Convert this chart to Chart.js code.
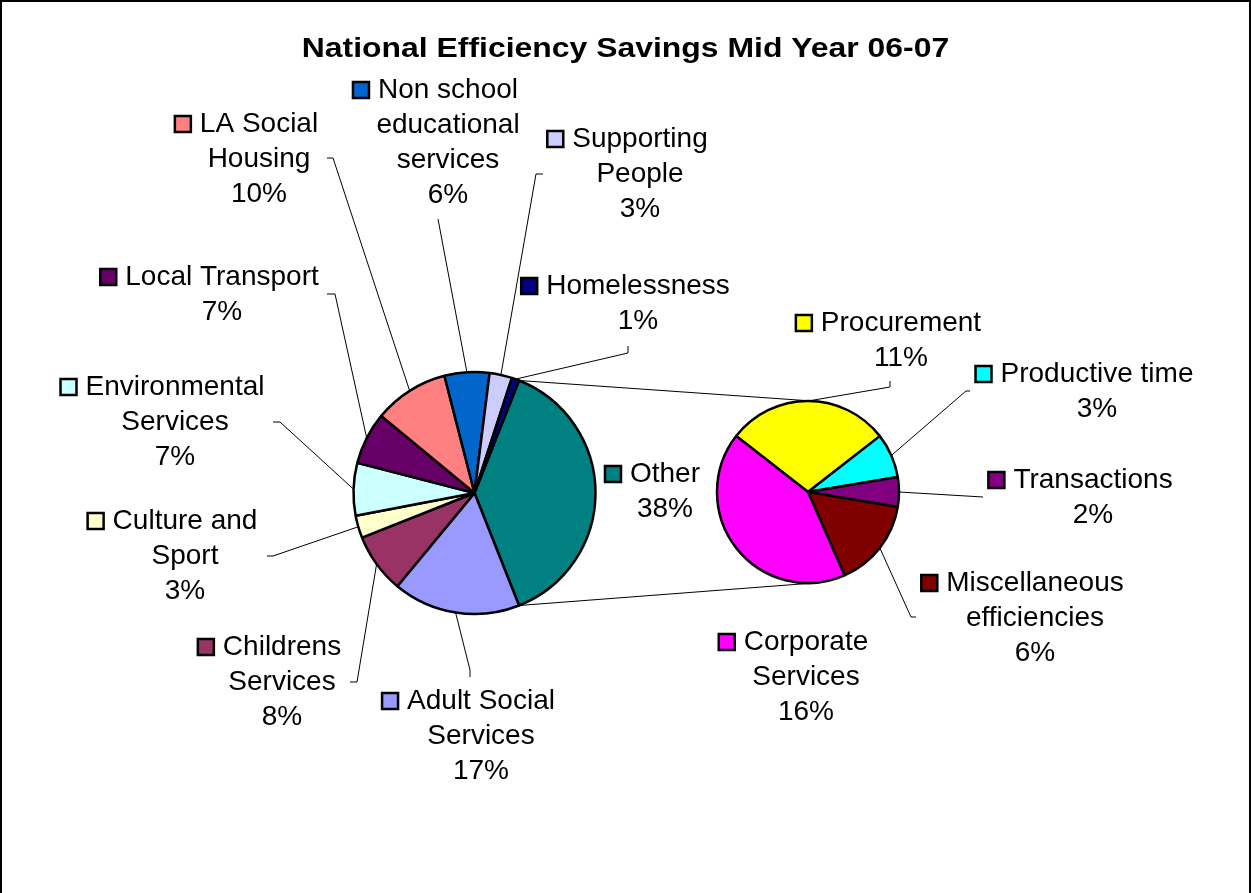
<!DOCTYPE html>
<html>
<head>
<meta charset="utf-8">
<title>National Efficiency Savings Mid Year 06-07</title>
<script src="https://cdn.jsdelivr.net/npm/chart.js@4.4.0/dist/chart.umd.min.js"></script>
<style>
  body { margin: 0; background: #fff; }
  #wrap { position: relative; width: 1251px; height: 893px; }
  #wrap canvas { position: absolute; left: 0; top: 0; }
</style>
</head>
<body>
<div id="wrap">
  <canvas id="mainPie" width="1251" height="893"></canvas>
  <canvas id="subPie" width="1251" height="893"></canvas>
</div>
<script>
const chartTitle = 'National Efficiency Savings Mid Year 06-07';

// Main pie, clockwise starting with the "Other" slice
const mainCategories = [
    ['Other'],
    ['Adult Social', 'Services'],
    ['Childrens', 'Services'],
    ['Culture and', 'Sport'],
    ['Environmental', 'Services'],
    ['Local Transport'],
    ['LA Social', 'Housing'],
    ['Non school', 'educational', 'services'],
    ['Supporting', 'People'],
    ['Homelessness']
];
const mainValues = [38, 17, 8, 3, 7, 7, 10, 6, 3, 1];
const mainColors = ['#008080', '#9999FF', '#993366', '#FFFFCC', '#CCFFFF',
                    '#660066', '#FF8080', '#0066CC', '#CCCCFF', '#000080'];

// Breakdown of "Other"
const subCategories = [
    ['Procurement'],
    ['Productive time'],
    ['Transactions'],
    ['Miscellaneous', 'efficiencies'],
    ['Corporate', 'Services']
];
const subValues = [11, 3, 2, 6, 16];
const subColors = ['#FFFF00', '#00FFFF', '#800080', '#800000', '#FF00FF'];

// label layout: [centre x, first baseline], leader points from label side
const mainLabelPos = [[665, 482], [481, 709], [282, 655], [185, 529], [175, 395],
                      [222, 285], [259, 132], [448, 98], [640, 147], [638, 294]];
const mainLeaders = [
    null,
    [[470, 677], [470, 670]],
    [[350, 682], [357, 682]],
    [[267, 556], [273, 556]],
    [[273, 422], [280, 422]],
    [[327, 294], [335, 294]],
    [[327, 158], [333, 158]],
    [[438, 219]],
    [[543, 174], [536, 174]],
    [[628, 346], [628, 353]]
];
const subLabelPos = [[901, 331], [1097, 382], [1093, 488], [1035, 591], [806, 650]];
const subLeaders = [
    [[890, 381], [890, 387]],
    [[970, 391], [966, 391]],
    [[983, 497]],
    [[916, 617], [911, 617]],
    null
];

const FONT = '"Liberation Sans", Arial, sans-serif';
const LABEL_FONT = '28px ' + FONT;
const LINE_H = 35;
const grandTotal = mainValues.reduce((a, b) => a + b, 0);

let mainChart = null;

function drawLabels(ctx, meta, cats, values, colors, positions, leaders) {
    ctx.save();
    // leader lines first
    ctx.strokeStyle = '#000';
    ctx.lineWidth = 1;
    meta.data.forEach((arc, i) => {
        const pts = leaders[i];
        if (!pts) return;
        const mid = (arc.startAngle + arc.endAngle) / 2;
        const sx = arc.x + Math.cos(mid) * arc.outerRadius;
        const sy = arc.y + Math.sin(mid) * arc.outerRadius;
        ctx.beginPath();
        ctx.moveTo(pts[0][0], pts[0][1]);
        for (let k = 1; k < pts.length; k++) ctx.lineTo(pts[k][0], pts[k][1]);
        ctx.lineTo(sx, sy);
        ctx.stroke();
    });

    ctx.font = LABEL_FONT;
    ctx.textAlign = 'center';
    ctx.textBaseline = 'alphabetic';
    cats.forEach((lines, i) => {
        const [cx, y] = positions[i];
        const pct = Math.round(values[i] / grandTotal * 100) + '%';
        const all = lines.concat([pct]);
        ctx.fillStyle = '#000';
        all.forEach((t, k) => ctx.fillText(t, cx, y + k * LINE_H));
        // legend key in front of the first line
        const w = ctx.measureText(lines[0]).width;
        const left = cx - w / 2;
        ctx.fillStyle = colors[i];
        ctx.fillRect(left - 25, y - 16, 16, 16);
        ctx.lineWidth = 2.5;
        ctx.strokeStyle = '#000';
        ctx.strokeRect(left - 25, y - 16, 16, 16);
        ctx.lineWidth = 1;
    });
    ctx.restore();
}

const mainLabelPlugin = {
    id: 'mainLabels',
    afterDraw(chart) {
        const ctx = chart.ctx;
        drawLabels(ctx, chart.getDatasetMeta(0), mainCategories, mainValues,
                   mainColors, mainLabelPos, mainLeaders);
        ctx.save();
        // title (Excel renders it slightly wide)
        ctx.font = 'bold 28px ' + FONT;
        ctx.fillStyle = '#000';
        ctx.textAlign = 'center';
        ctx.textBaseline = 'alphabetic';
        ctx.translate(chart.width / 2, 57);
        ctx.scale(1.14, 1);
        ctx.fillText(chartTitle, 0, 0);
        ctx.restore();
        // outer frame
        ctx.save();
        ctx.strokeStyle = '#000';
        ctx.lineWidth = 2;
        ctx.strokeRect(1, 1, chart.width - 2, chart.height + 10);
        ctx.restore();
    }
};

const subLabelPlugin = {
    id: 'subLabels',
    afterDraw(chart) {
        const ctx = chart.ctx;
        const subMeta = chart.getDatasetMeta(0);
        drawLabels(ctx, subMeta, subCategories, subValues,
                   subColors, subLabelPos, subLeaders);
        // connector lines from "Other" slice to the second pie
        const other = mainChart.getDatasetMeta(0).data[0];
        const s = subMeta.data[0];
        ctx.save();
        ctx.strokeStyle = '#000';
        ctx.lineWidth = 1;
        ctx.beginPath();
        ctx.moveTo(other.x + Math.cos(other.startAngle) * other.outerRadius,
                   other.y + Math.sin(other.startAngle) * other.outerRadius);
        ctx.lineTo(s.x + 4, s.y - s.outerRadius);
        ctx.moveTo(other.x + Math.cos(other.endAngle) * other.outerRadius,
                   other.y + Math.sin(other.endAngle) * other.outerRadius);
        ctx.lineTo(s.x + 6, s.y + s.outerRadius);
        ctx.stroke();
        ctx.restore();
    }
};

function pieOptions(padding) {
    return {
        responsive: false,
        animation: false,
        devicePixelRatio: 1,
        events: [],
        layout: { padding: padding },
        plugins: {
            legend: { display: false },
            tooltip: { enabled: false },
            title: { display: false }
        }
    };
}

function initCharts() {
    mainChart = new Chart(document.getElementById('mainPie').getContext('2d'), {
        type: 'pie',
        data: {
            labels: mainCategories.map(l => l.join(' ')),
            datasets: [{
                data: mainValues,
                backgroundColor: mainColors,
                borderColor: '#000',
                borderWidth: 2.5,
                radius: 121,
                rotation: 21.6
            }]
        },
        options: pieOptions({ left: 250, right: 552, top: 150, bottom: 57 }),
        plugins: [mainLabelPlugin]
    });

    new Chart(document.getElementById('subPie').getContext('2d'), {
        type: 'pie',
        data: {
            labels: subCategories.map(l => l.join(' ')),
            datasets: [{
                data: subValues,
                backgroundColor: subColors,
                borderColor: '#000',
                borderWidth: 2.5,
                radius: 91,
                rotation: -52.1
            }]
        },
        options: pieOptions({ left: 600, right: 235, top: 200, bottom: 109 }),
        plugins: [subLabelPlugin]
    });
}

initCharts();
</script>
</body>
</html>
